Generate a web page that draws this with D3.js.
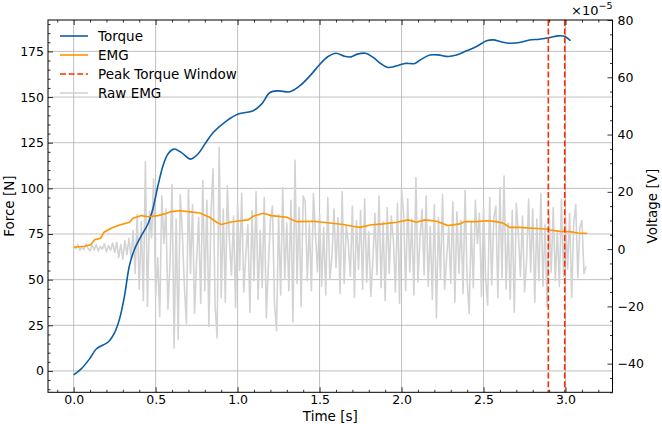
<!DOCTYPE html>
<html>
<head>
<meta charset="utf-8">
<script src="https://cdn.jsdelivr.net/npm/d3@7"></script>
<style>
  body { margin: 0; background: #fff; }
  text { font-family: "DejaVu Sans", sans-serif; }
</style>
</head>
<body>
<div id="chart"></div>
<script>
// torque (left axis, N)
const torqueTime = [0, 0.046, 0.097, 0.138, 0.179, 0.209, 0.25, 0.28, 0.31, 0.34, 0.372, 0.412, 0.453, 0.483, 0.514, 0.545, 0.575, 0.611, 0.656, 0.713, 0.758, 0.8, 0.851, 0.933, 1.004, 1.095, 1.146, 1.197, 1.248, 1.319, 1.38, 1.441, 1.502, 1.552, 1.6, 1.65, 1.69, 1.73, 1.78, 1.827, 1.878, 1.918, 1.97, 2.02, 2.081, 2.122, 2.173, 2.223, 2.284, 2.335, 2.396, 2.457, 2.518, 2.559, 2.61, 2.66, 2.72, 2.78, 2.84, 2.905, 2.955, 2.996, 3.03]
const torqueForce = [-2.2, 1.1, 6.6, 12, 14.2, 15.7, 21, 28.5, 41, 57.6, 66.8, 74, 80.5, 88.7, 101.4, 112.4, 118.8, 121.5, 119.7, 116, 118.8, 124.2, 130.6, 137, 140.7, 142.5, 146.1, 152.5, 153.4, 152.9, 156.2, 161.6, 168, 172.2, 174, 172.4, 172, 173.5, 174, 171.7, 168, 166.2, 167.1, 168.4, 168.4, 170.8, 173, 173.1, 172.2, 173, 175.3, 177.7, 180.8, 181.3, 180.2, 179.5, 179.9, 181.2, 181.7, 182.6, 183.5, 183.2, 180.8]

// EMG envelope (right axis, x1e-5 V)
const emgTime = [0, 0.067, 0.104, 0.128, 0.165, 0.185, 0.229, 0.28, 0.341, 0.362, 0.412, 0.453, 0.514, 0.555, 0.595, 0.646, 0.697, 0.77, 0.83, 0.871, 0.902, 0.953, 1.014, 1.065, 1.095, 1.156, 1.207, 1.299, 1.36, 1.461, 1.563, 1.644, 1.70, 1.746, 1.807, 1.888, 1.97, 2.04, 2.091, 2.142, 2.213, 2.284, 2.355, 2.386, 2.457, 2.518, 2.579, 2.62, 2.66, 2.72, 2.8, 2.884, 2.905, 2.966, 3.026, 3.077, 3.13]
const emgVolt = [0.66, 1.0, 1.5, 3.3, 3.8, 5.9, 7.3, 8.4, 9.4, 10.8, 11.7, 11.3, 11.7, 12.3, 13.1, 13.4, 13.1, 12.6, 11.1, 9.4, 8.6, 9.4, 9.9, 10.2, 11.5, 12.5, 11.7, 11.1, 9.6, 9.7, 9.1, 8.6, 8.0, 7.6, 8.4, 8.8, 9.4, 10.2, 9.4, 10.2, 9.7, 8.2, 8.8, 9.6, 9.6, 9.9, 9.6, 9.0, 7.6, 7.6, 7.3, 7.0, 6.7, 6.2, 6.1, 5.6, 5.5]

// raw EMG samples (right axis, x1e-5 V), one every rawStep seconds
const rawStep = 0.0125
const rawEmg = [
  1.0, 0.1, 1.5, -0.4, 0.8, -0.2, 1.8, 0.3, -0.6, 1.3, -0.3, 1.6, -0.7, 0.9, 0.0, 1.9, -0.9, 1.2, -0.4, 2.1, -1.1,
  2.4, -2.9, 1.6, -3.5, 3.0, -1.9, 3.8, -3.2,
  6.5, -8.5, 12.0, -14.0, 9.5, -18.0,
  30.5, -20.0, 13.0, 4.0, 24.5, -16.5, -3.0, -23.5, 18.5, 2.0, 14.0, -21.0, -5.0, 22.5, -34.5, 10.5, -31.5, 19.0, 6.0,
  -12.5, -26.0, 21.0, -8.5, 15.5, -22.5, -4.0, 11.0, -19.0, 24.0, -14.5, 17.0, -27.0, 12.5, 28.0, -19.5, -31.0, 35.5, -17.0,
  14.0, -18.5, 22.0, 3.0, -9.0, 11.5, -20.5, 16.0, -7.5, 19.5, -15.0, -2.0, 8.5, -22.0, 13.5, -11.0, 20.0, -17.5, 6.5, -13.5,
  18.0, -24.0, -6.0, 10.0, 15.0, -19.0, -28.5, 12.0, -16.0, 21.5, -10.5, 9.0, -14.5, 17.0, -25.5, 31.0, -12.0, 14.5, -20.0, 18.5,
  16.5, -11.0, 9.0, -14.5, 19.5, 5.0, -8.0, 12.0, -13.0, 7.5, -16.0, 18.0, -10.5, -3.0, 14.0, -6.5, 11.0, -15.5, 20.0, -12.0,
  8.5, 2.0, -9.5, 15.0, -17.0, 10.0, -7.0, 13.5, -14.0, 17.5, -11.5, 6.0, -16.5, -4.0, 12.5, -9.0, 18.5, -13.5, 9.5, -18.0,
  14.5, -8.5, 11.5, 3.0, -15.0, 16.0, -19.0, 21.0,
  12.0, -14.5, 17.5, -8.0, 10.5, -16.0, 25.0, -11.5, 4.0, 14.0, -9.0, 18.5, -13.0, 8.0, -17.5, 15.5, -24.0, 11.0, -10.5, 19.0,
  -14.0, -3.0, 7.5, -12.0, 16.5, -18.5, 13.0, -8.5, 10.0, -15.5, 20.5, -11.0, -22.5, 9.5, -13.5, 17.0, 2.0, 12.5, -16.5, 14.5,
  -10.0, -19.5, 18.0, -12.5, 11.0, 15.0, -17.0, 21.5,
  -10.0, 25.5, -14.0, 9.0, -17.5, 13.5, -22.0, 16.0, 5.0, -9.5, 11.5, -15.0, -4.0, 17.5, -8.0, 14.0, -18.5, 10.5, -11.0, 19.5,
  -13.0, 8.5, -20.0, 12.0,
  -8.0, 14.5, -11.0, 6.5, -13.0, 17.5, -9.5, 11.0, -7.0, 12.5, -17.0, 9.0, 15.5, -10.0, 7.5, 10.0, -8.5, -6.0
]

const peakWindow = [2.895, 2.995]

const xTicks = [0, 0.5, 1.0, 1.5, 2.0, 2.5, 3.0]
const forceTicks = [0, 25, 50, 75, 100, 125, 150, 175]
const voltTicks = [-40, -20, 0, 20, 40, 60, 80]
const legendLabels = ["Torque", "EMG", "Peak Torque Window", "Raw EMG"]

const colors = { torque: "#0C5DA5", emg: "#FF9500", peak: "#FF2C00", raw: "#d3d3d3" }

var width = 662, height = 424
var plot = { left: 48, right: 612.5, top: 20, bottom: 392.3 }

var svg = d3.select("#chart")
    .append("svg")
    .attr("width", width)
    .attr("height", height)

var x = d3.scaleLinear().domain([-0.1565, 3.2865]).range([plot.left, plot.right])
var yL = d3.scaleLinear().domain([-11.7, 192.2]).range([plot.bottom, plot.top])
var yR = d3.scaleLinear().domain([-50, 80]).range([plot.bottom, plot.top])

svg.append("clipPath").attr("id", "clip")
    .append("rect")
    .attr("x", plot.left).attr("y", plot.top)
    .attr("width", plot.right - plot.left).attr("height", plot.bottom - plot.top)

// grid
var grid = svg.append("g").attr("stroke", "#b0b0b0").attr("stroke-width", 0.8)
grid.selectAll("vgrid").data(xTicks).enter().append("line")
    .attr("x1", d => x(d)).attr("x2", d => x(d))
    .attr("y1", plot.top).attr("y2", plot.bottom)
grid.selectAll("hgrid").data(forceTicks).enter().append("line")
    .attr("x1", plot.left).attr("x2", plot.right)
    .attr("y1", d => yL(d)).attr("y2", d => yL(d))

var lines = svg.append("g").attr("clip-path", "url(#clip)")

// raw EMG
lines.append("path")
    .datum(rawEmg)
    .attr("fill", "none")
    .attr("stroke", colors.raw)
    .attr("stroke-width", 1.6)
    .attr("stroke-linejoin", "round")
    .attr("d", d3.line().x((d, i) => x(i * rawStep)).y(d => yR(d)))

// torque
lines.append("path")
    .datum(torqueTime.map((t, i) => [t, torqueForce[i]]))
    .attr("fill", "none")
    .attr("stroke", colors.torque)
    .attr("stroke-width", 1.6)
    .attr("d", d3.line().x(d => x(d[0])).y(d => yL(d[1])).curve(d3.curveCatmullRom.alpha(0.5)))

// EMG envelope
lines.append("path")
    .datum(emgTime.map((t, i) => [t, emgVolt[i]]))
    .attr("fill", "none")
    .attr("stroke", colors.emg)
    .attr("stroke-width", 1.6)
    .attr("d", d3.line().x(d => x(d[0])).y(d => yR(d[1])))

// peak torque window
lines.selectAll("peakLines").data(peakWindow).enter().append("line")
    .attr("x1", d => x(d)).attr("x2", d => x(d))
    .attr("y1", plot.top).attr("y2", plot.bottom)
    .attr("stroke", colors.peak)
    .attr("stroke-width", 1.6)
    .attr("stroke-dasharray", "6,2.6")

// axes
function styleAxis(g) {
    g.select(".domain").remove()
    g.selectAll("line").attr("stroke", "#000").attr("stroke-width", 0.8)
    g.selectAll("text").attr("fill", "#000").style("font-size", "12.5px")
        .style("font-family", "'DejaVu Sans', sans-serif")
}

var xMinor = d3.range(-0.1, 3.25, 0.1).filter(v => Math.abs(v * 2 - Math.round(v * 2)) > 1e-6)
var yMinor = d3.range(-10, 192, 5).filter(v => v % 25 !== 0)
var rMinor = d3.range(-50, 80, 5).filter(v => v % 20 !== 0)

svg.append("g").attr("transform", "translate(0," + plot.bottom + ")")
    .call(d3.axisBottom(x).tickValues(xTicks).tickFormat(d3.format(".1f")).tickSize(-5).tickPadding(3))
    .call(styleAxis)
svg.append("g").attr("transform", "translate(0," + plot.bottom + ")")
    .call(d3.axisBottom(x).tickValues(xMinor).tickFormat("").tickSize(-2.5))
    .call(styleAxis)
svg.append("g").attr("transform", "translate(0," + plot.top + ")")
    .call(d3.axisTop(x).tickValues(xTicks).tickFormat("").tickSize(-5))
    .call(styleAxis)
svg.append("g").attr("transform", "translate(0," + plot.top + ")")
    .call(d3.axisTop(x).tickValues(xMinor).tickFormat("").tickSize(-2.5))
    .call(styleAxis)

svg.append("g").attr("transform", "translate(" + plot.left + ",0)")
    .call(d3.axisLeft(yL).tickValues(forceTicks).tickSize(-5).tickPadding(4))
    .call(styleAxis)
svg.append("g").attr("transform", "translate(" + plot.left + ",0)")
    .call(d3.axisLeft(yL).tickValues(yMinor).tickFormat("").tickSize(-2.5))
    .call(styleAxis)

svg.append("g").attr("transform", "translate(" + plot.right + ",0)")
    .call(d3.axisRight(yR).tickValues(voltTicks).tickSize(-5).tickPadding(5))
    .call(styleAxis)
svg.append("g").attr("transform", "translate(" + plot.right + ",0)")
    .call(d3.axisRight(yR).tickValues(rMinor).tickFormat("").tickSize(-2.5))
    .call(styleAxis)

// frame
svg.append("rect")
    .attr("x", plot.left).attr("y", plot.top)
    .attr("width", plot.right - plot.left).attr("height", plot.bottom - plot.top)
    .attr("fill", "none").attr("stroke", "#000").attr("stroke-width", 1)

// labels
svg.append("text")
    .attr("x", (plot.left + plot.right) / 2).attr("y", 421)
    .attr("text-anchor", "middle").style("font-size", "13.5px")
    .text("Time [s]")
svg.append("text")
    .attr("transform", "translate(14," + (plot.top + plot.bottom) / 2 + ") rotate(-90)")
    .attr("text-anchor", "middle").style("font-size", "13.5px")
    .text("Force [N]")
svg.append("text")
    .attr("transform", "translate(657," + (plot.top + plot.bottom) / 2 + ") rotate(-90)")
    .attr("text-anchor", "middle").style("font-size", "13.5px")
    .text("Voltage [V]")

var offset = svg.append("text")
    .attr("x", plot.right).attr("y", 15)
    .attr("text-anchor", "end").style("font-size", "13px")
offset.append("tspan").text("×10")
offset.append("tspan").attr("dy", -6).style("font-size", "9.5px").text("−5")

// legend
var legendColors = [colors.torque, colors.emg, colors.peak, colors.raw]
var legend = svg.append("g")
legend.selectAll("legendLines").data(legendLabels).enter().append("line")
    .attr("x1", 60).attr("x2", 88)
    .attr("y1", (d, i) => 36 + i * 19).attr("y2", (d, i) => 36 + i * 19)
    .attr("stroke", (d, i) => legendColors[i])
    .attr("stroke-width", 1.6)
    .attr("stroke-dasharray", (d, i) => i === 2 ? "6,2.6" : null)
legend.selectAll("legendText").data(legendLabels).enter().append("text")
    .attr("x", 98).attr("y", (d, i) => 36 + i * 19)
    .attr("dy", "0.35em")
    .style("font-size", "13.5px")
    .text(d => d)
</script>
</body>
</html>
